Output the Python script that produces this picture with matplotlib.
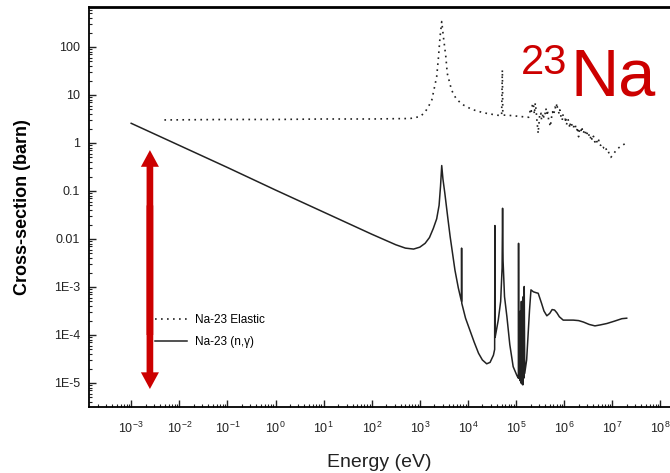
import numpy as np
import matplotlib
matplotlib.use("Agg")
import matplotlib.pyplot as plt
from matplotlib.ticker import FixedLocator, FixedFormatter, LogLocator, NullFormatter

plt.rcParams['font.family'] = ['Liberation Sans', 'DejaVu Sans']
plt.rcParams['mathtext.fontset'] = 'custom'
plt.rcParams['mathtext.rm'] = 'Liberation Sans'
plt.rcParams['mathtext.default'] = 'regular'

# values, stored as log10(energy / eV) and log10(sigma / barn)
cap_log_e = [-3.0, -2.0, -1.0, 0.0, 1.0, 2.0, 2.5, 2.7, 2.87, 3.0, 3.11, 3.2, 3.28, 3.35,
             3.40, 3.43, 3.455, 3.48, 3.52, 3.58, 3.63, 3.73, 3.80, 3.865, 3.868, 3.872,
             3.95, 4.04, 4.13, 4.22, 4.30, 4.39, 4.46, 4.53, 4.555, 4.56, 4.565, 4.63,
             4.68, 4.71, 4.72, 4.725, 4.73, 4.76, 4.81, 4.87, 4.94, 5.02, 5.05, 5.052,
             5.055, 5.07, 5.08, 5.09, 5.10, 5.11, 5.12, 5.13, 5.14, 5.15, 5.16, 5.17,
             5.18, 5.22, 5.25, 5.28, 5.31, 5.36, 5.42, 5.46, 5.50, 5.53, 5.58, 5.64,
             5.70, 5.75, 5.80, 5.85, 5.90, 5.98, 6.10, 6.19, 6.30, 6.40, 6.52, 6.64,
             6.75, 6.89, 7.05, 7.20, 7.30]
cap_log_s = [0.41, -0.05, -0.51, -0.98, -1.44, -1.90, -2.12, -2.19, -2.21, -2.17, -2.09,
             -1.97, -1.78, -1.58, -1.30, -0.90, -0.47, -0.75, -1.05, -1.55, -1.95, -2.65,
             -3.02, -3.30, -2.19, -3.34, -3.65, -3.90, -4.15, -4.38, -4.52, -4.60, -4.57,
             -4.42, -4.30, -1.72, -4.05, -3.69, -3.30, -2.60, -1.36, -2.00, -2.45, -3.20,
             -3.62, -4.20, -4.66, -4.85, -4.90, -2.09, -4.90, -3.60, -4.95, -3.50, -5.00,
             -3.30, -5.02, -3.60, -5.04, -3.20, -4.90, -2.99, -4.80, -4.52, -4.00, -3.48,
             -3.06, -3.10, -3.12, -3.13, -3.25, -3.34, -3.50, -3.60, -3.55, -3.47, -3.48,
             -3.54, -3.62, -3.69, -3.69, -3.69, -3.70, -3.73, -3.78, -3.81, -3.79, -3.76,
             -3.71, -3.66, -3.65]

# elastic: smooth part up to ~200 keV
el_log_e = [-2.31, -1.0, 0.0, 1.0, 2.0, 2.8, 3.0, 3.10, 3.18, 3.25, 3.30, 3.35, 3.385,
            3.42, 3.455, 3.49, 3.54, 3.57, 3.66, 3.75, 3.87, 4.08, 4.32, 4.60, 4.70,
            4.715, 4.725, 4.81, 5.01, 5.26]
el_log_s = [0.48, 0.49, 0.49, 0.50, 0.50, 0.51, 0.55, 0.63, 0.76, 0.90, 1.14, 1.38, 1.76,
            2.21, 2.53, 2.21, 1.80, 1.45, 1.10, 0.93, 0.81, 0.70, 0.63, 0.58, 0.57,
            1.52, 0.58, 0.58, 0.56, 0.535]
# elastic: dense resonance band above ~200 keV, (log10 E, log10 sigma)
el_band = [(5.28, 0.60), (5.30, 0.72), (5.32, 0.66), (5.34, 0.80), (5.36, 0.83),
           (5.37, 0.70), (5.38, 0.60), (5.39, 0.72), (5.40, 0.83), (5.42, 0.65),
           (5.43, 0.51), (5.45, 0.30), (5.46, 0.20), (5.47, 0.35), (5.48, 0.44),
           (5.49, 0.58), (5.50, 0.55), (5.52, 0.62), (5.53, 0.48), (5.55, 0.55),
           (5.56, 0.62), (5.58, 0.52), (5.60, 0.58), (5.61, 0.66), (5.62, 0.72),
           (5.64, 0.60), (5.65, 0.69), (5.67, 0.55), (5.68, 0.45), (5.70, 0.40),
           (5.71, 0.34), (5.73, 0.46), (5.74, 0.55), (5.76, 0.65), (5.78, 0.58),
           (5.80, 0.68), (5.81, 0.75), (5.83, 0.70), (5.85, 0.83), (5.86, 0.72),
           (5.88, 0.66), (5.90, 0.60), (5.91, 0.69), (5.93, 0.58), (5.94, 0.52),
           (5.96, 0.47), (5.97, 0.60), (5.99, 0.52), (6.02, 0.48), (6.03, 0.55),
           (6.05, 0.38), (6.06, 0.45), (6.08, 0.50), (6.10, 0.40), (6.12, 0.31),
           (6.13, 0.44), (6.15, 0.42), (6.17, 0.33), (6.19, 0.30), (6.21, 0.40),
           (6.23, 0.375), (6.25, 0.28), (6.26, 0.25), (6.28, 0.33), (6.30, 0.13),
           (6.31, 0.22), (6.33, 0.30), (6.35, 0.25), (6.37, 0.34), (6.38, 0.24),
           (6.40, 0.20), (6.42, 0.28), (6.44, 0.26), (6.45, 0.15), (6.47, 0.17),
           (6.49, 0.24), (6.51, 0.22), (6.52, 0.12), (6.54, 0.08), (6.56, 0.16),
           (6.57, 0.10), (6.59, 0.05), (6.61, 0.14), (6.62, 0.06), (6.64, 0.02),
           (6.66, 0.08), (6.68, 0.03), (6.70, -0.02), (6.72, 0.06), (6.74, -0.03),
           (6.76, -0.05), (6.78, -0.12), (6.81, -0.11), (6.83, -0.06), (6.86, -0.08),
           (6.88, -0.15), (6.90, -0.20), (6.92, -0.18), (6.94, -0.24), (6.97, -0.30),
           (7.01, -0.25), (7.06, -0.18), (7.11, -0.12), (7.16, -0.08), (7.21, -0.05),
           (7.27, -0.01)]

x_ticks = [1e-3, 1e-2, 1e-1, 1e0, 1e1, 1e2, 1e3, 1e4, 1e5, 1e6, 1e7, 1e8]
x_labels = [r'$10^{-3}$', r'$10^{-2}$', r'$10^{-1}$', r'$10^{0}$', r'$10^{1}$', r'$10^{2}$',
            r'$10^{3}$', r'$10^{4}$', r'$10^{5}$', r'$10^{6}$', r'$10^{7}$', r'$10^{8}$']
y_ticks = [100, 10, 1, 0.1, 0.01, 1e-3, 1e-4, 1e-5]
y_labels = ['100', '10', '1', '0.1', '0.01', '1E-3', '1E-4', '1E-5']

# red double arrow spanning the capture range
arrow_e = 2.45e-3
arrow_top = 0.71
arrow_bottom = 7.5e-6

red = '#cc0000'

band_e, band_s = zip(*el_band)
el_e = 10 ** np.array(el_log_e + list(band_e))
el_s = 10 ** np.array(el_log_s + list(band_s))

fig = plt.figure(figsize=(6.7, 4.73), dpi=100)
ax = fig.add_axes([89 / 670, 1 - 407 / 473, 1 - 89 / 670, 400 / 473])

el_line, = ax.plot(el_e, el_s, color='#222222', lw=1.2, linestyle=(0, (1, 2.6)),
                   label='Na-23 Elastic')
cap_line, = ax.plot(10 ** np.array(cap_log_e), 10 ** np.array(cap_log_s), color='#222222',
                    lw=1.1, label='Na-23 (n,\u03b3)')

ax.set_xscale('log')
ax.set_yscale('log')
ax.set_xlim(10 ** -3.877, 10 ** 8.2)
ax.set_ylim(10 ** -5.5, 10 ** 2.833)

ax.xaxis.set_major_locator(FixedLocator(x_ticks))
ax.xaxis.set_major_formatter(FixedFormatter(x_labels))
ax.xaxis.set_minor_locator(LogLocator(base=10, subs=np.arange(2, 10), numticks=100))
ax.xaxis.set_minor_formatter(NullFormatter())
ax.yaxis.set_major_locator(FixedLocator(y_ticks))
ax.yaxis.set_major_formatter(FixedFormatter(y_labels))
ax.yaxis.set_minor_locator(LogLocator(base=10, subs=np.arange(2, 10), numticks=100))
ax.yaxis.set_minor_formatter(NullFormatter())

ax.tick_params(which='both', direction='in', top=False, right=False, colors='#222222')
ax.tick_params(which='major', length=5, width=1)
ax.tick_params(which='minor', length=2.5, width=0.8)
ax.tick_params(axis='x', which='major', labelsize=9, pad=10)
ax.tick_params(axis='y', which='major', labelsize=9, pad=6.5)

ax.spines['right'].set_visible(False)
ax.spines['top'].set_linewidth(2)
ax.spines['left'].set_linewidth(1.3)
ax.spines['bottom'].set_linewidth(1.3)

ax.set_xlabel('Energy (eV)', fontsize=14, color='#222222', va='center')
ax.xaxis.set_label_coords(0.5, -0.1375)
ax.set_ylabel('Cross-section (barn)', fontsize=13, fontweight='bold', va='center')
ax.yaxis.set_label_coords(-0.1145, 0.5)

# two arrows in opposite directions whose shafts overlap in the middle (no seam,
# and no shaft end poking out past the opposite head)
for tip, tail in ((arrow_top, 1e-4), (arrow_bottom, 0.05)):
    ax.annotate('', xy=(arrow_e, tip), xytext=(arrow_e, tail),
                arrowprops=dict(width=4.8, headwidth=13, headlength=12, color=red,
                                lw=0, shrink=0))

fig.legend(handles=[el_line, cap_line], loc='upper left',
           bbox_to_anchor=(155 / 670, 1 - 314 / 473), frameon=False, fontsize=8.5,
           handlelength=2.7, handletextpad=0.7, labelspacing=0.85, borderpad=0,
           borderaxespad=0)

fig.text(521 / 670, 1 - 74 / 473, '23', color=red, fontsize=30, va='baseline', ha='left')
fig.text(570 / 670, 1 - 95 / 473, 'Na', color=red, fontsize=48, va='baseline', ha='left')

fig.savefig('out.png', dpi=100)
